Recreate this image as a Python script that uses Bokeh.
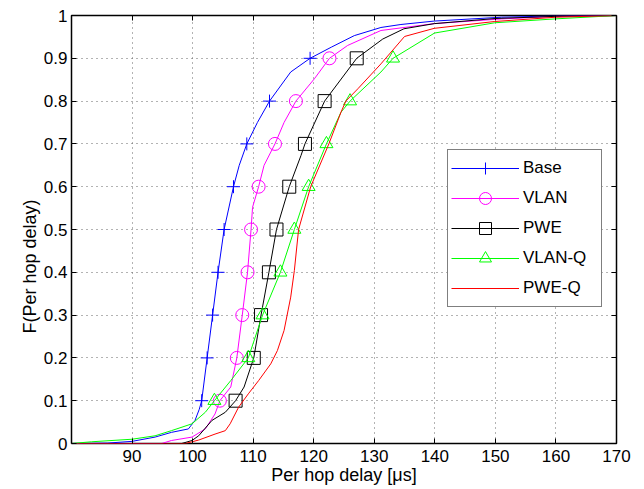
from bokeh.plotting import figure
from bokeh.models import (Range1d, LinearAxis, FixedTicker, Legend, LegendItem, Title)
from bokeh.embed import file_html
from bokeh.resources import INLINE

# ---------------- data ----------------
base_x = [80, 86, 90, 93.8, 96.5, 99.3, 100.4, 101.1, 101.5, 102.4, 103.3, 104.2, 105.2,
          106.75, 107.7, 108.95, 110.7, 112.7, 116.2, 119.4, 122.9, 126.7, 131.1, 134.4,
          139.9, 151, 160, 170]
base_f = [0, 0.001, 0.005, 0.015, 0.026, 0.034, 0.054, 0.08, 0.1, 0.2, 0.3, 0.4, 0.5,
          0.6, 0.65, 0.7, 0.75, 0.8, 0.868, 0.9, 0.926, 0.953, 0.972, 0.979,
          0.987, 0.996, 0.999, 1.0]

vlan_x = [80, 94.9, 96.5, 99.9, 102.1, 103.7, 104.5, 106.3, 107.3, 108.2, 109.07, 109.65,
          109.9, 110.9, 111.8, 113.6, 115.1, 117.06, 120.1, 122.6, 125.6, 131.1, 139.9,
          151, 160, 170]
vlan_f = [0, 0, 0.007, 0.015, 0.034, 0.069, 0.1, 0.132, 0.2, 0.3, 0.4, 0.5,
          0.552, 0.6, 0.65, 0.7, 0.75, 0.8, 0.852, 0.9, 0.93, 0.965, 0.981,
          0.992, 0.998, 1.0]

pwe_x = [80, 98.2, 99.9, 101, 103.2, 105.4, 107.1, 108.5, 110.1, 111.3, 112.6, 113.85,
         115.96, 117.9, 118.55, 121.8, 127.1, 131.4, 134.9, 139.9, 150, 160, 170]
pwe_f = [0, 0, 0.007, 0.018, 0.054, 0.073, 0.1, 0.132, 0.2, 0.3, 0.4, 0.5,
         0.6, 0.673, 0.7, 0.8, 0.9, 0.945, 0.969, 0.981, 0.993, 0.998, 1.0]

vlanq_x = [80, 83.3, 90, 93.8, 96.5, 99.9, 102.1, 103.6, 106.3, 109.2, 111.55, 114.5,
           116.8, 119.16, 122.1, 124.5, 126.0, 131.1, 133.1, 139.95, 149.9, 159.8, 170]
vlanq_f = [0, 0.004, 0.01, 0.018, 0.03, 0.046, 0.073, 0.1, 0.147, 0.2, 0.3, 0.4,
           0.5, 0.6, 0.7, 0.774, 0.8, 0.868, 0.9, 0.959, 0.983, 0.992, 1.0]

pweq_x = [80, 98.8, 101, 103.7, 105.4, 106.2, 107.6, 109.2, 110.9, 112.9, 114.0, 115.1,
          116.2, 116.8, 117.5, 119.5, 122.5, 124.5, 125.3, 127.3, 131.1, 135.0, 139.9,
          149.9, 160, 170]
pweq_f = [0, 0, 0.008, 0.022, 0.03, 0.046, 0.085, 0.116, 0.147, 0.186, 0.217, 0.264,
          0.342, 0.404, 0.5, 0.6, 0.7, 0.774, 0.8, 0.829, 0.887, 0.951, 0.97,
          0.986, 0.996, 1.0]

marker_f = [0.1, 0.2, 0.3, 0.4, 0.5, 0.6, 0.7, 0.8, 0.9]
base_mx = [101.5, 102.4, 103.3, 104.2, 105.2, 106.75, 108.95, 112.7, 119.4]
vlan_mx = [104.5, 107.3, 108.2, 109.07, 109.65, 110.9, 113.6, 117.06, 122.6]
pwe_mx = [107.1, 110.1, 111.3, 112.6, 113.85, 115.96, 118.55, 121.8, 127.1]
vlanq_mx = [103.6, 109.2, 111.55, 114.5, 116.8, 119.16, 122.1, 126.0, 133.1]

x_ticks = [90, 100, 110, 120, 130, 140, 150, 160, 170]
x_tick_labels = ["90", "100", "110", "120", "130", "140", "150", "160", "170"]
y_ticks = [0, 0.1, 0.2, 0.3, 0.4, 0.5, 0.6, 0.7, 0.8, 0.9, 1]
y_tick_labels = ["0", "0.1", "0.2", "0.3", "0.4", "0.5", "0.6", "0.7", "0.8", "0.9", "1"]

FONT = "Liberation Sans"

p = figure(width=644, height=489, x_range=Range1d(80, 170), y_range=Range1d(0, 1),
           output_backend="svg", toolbar_location=None,
           min_border_left=71, min_border_right=28, min_border_top=15, min_border_bottom=46)
p.background_fill_color = "white"
p.border_fill_color = "white"
p.outline_line_color = "black"
p.outline_line_width = 1.5
p.outline_line_alpha = 1.0

# main axes
for ax, ticks, labels in ((p.xaxis[0], x_ticks, x_tick_labels), (p.yaxis[0], y_ticks, y_tick_labels)):
    ax.ticker = FixedTicker(ticks=ticks)
    ax.major_label_overrides = dict(zip(ticks, labels))
    ax.major_tick_in = 5
    ax.major_tick_out = 0
    ax.minor_tick_line_color = None
    ax.axis_line_color = None
    ax.major_tick_line_color = "black"
    ax.major_label_text_font = FONT
    ax.major_label_text_font_size = "17px"
    ax.major_label_text_color = "black"

p.xaxis.major_label_standoff = 6
p.yaxis.major_label_standoff = 4
p.xaxis.axis_label = "Per hop delay [μs]"
p.xaxis.axis_label_text_font = FONT
p.xaxis.axis_label_text_font_size = "18px"
p.xaxis.axis_label_text_font_style = "normal"
p.xaxis.axis_label_text_color = "black"
p.xaxis.axis_label_standoff = 0

# extra axes for inward ticks on top/right (no labels drawn)
for loc, ticks in (("above", x_ticks), ("right", y_ticks)):
    ax = LinearAxis(ticker=FixedTicker(ticks=ticks), major_tick_in=5, major_tick_out=0,
                    minor_tick_line_color=None, axis_line_color=None,
                    major_label_text_color=None, major_label_text_font_size="0px",
                    major_label_standoff=0)
    p.add_layout(ax, loc)

# y label as left title (placed like the reference)
ylab = Title(text="F(Per hop delay)", align="left", offset=110, text_font=FONT,
             text_font_size="18px", text_font_style="normal", text_color="black", standoff=2)
p.add_layout(ylab, "left")

# grid
for g in (p.xgrid[0], p.ygrid[0]):
    g.grid_line_color = "#666666"
    g.grid_line_dash = "1 4"
    g.grid_line_width = 1
p.xgrid[0].ticker = FixedTicker(ticks=x_ticks)
p.ygrid[0].ticker = FixedTicker(ticks=y_ticks)

items = []
series = [
    ("Base", base_x, base_f, base_mx, "#0000FF", "cross"),
    ("VLAN", vlan_x, vlan_f, vlan_mx, "#FF00FF", "circle"),
    ("PWE", pwe_x, pwe_f, pwe_mx, "#000000", "square"),
    ("VLAN-Q", vlanq_x, vlanq_f, vlanq_mx, "#00FF00", "triangle"),
    ("PWE-Q", pweq_x, pweq_f, None, "#FF0000", None),
]
for name, xs, fs, mx, col, mk in series:
    rs = [p.line(xs, fs, line_color=col, line_width=1)]
    if mx is not None:
        rs.append(p.scatter(mx, marker_f, marker=mk, size=13, line_color=col,
                            fill_color=None, line_width=1))
    items.append(LegendItem(label=name, renderers=rs))

leg = Legend(items=items, location=(376, 136), orientation="vertical",
             border_line_color="black", border_line_width=1, background_fill_color="white",
             background_fill_alpha=1.0, padding=3, spacing=0, margin=0,
             glyph_height=30, glyph_width=68, label_height=30, label_width=75,
             label_standoff=4, label_text_font=FONT, label_text_font_size="17px",
             label_text_color="black")
p.add_layout(leg, "center")

open("out.html", "w").write(file_html(p, INLINE))
